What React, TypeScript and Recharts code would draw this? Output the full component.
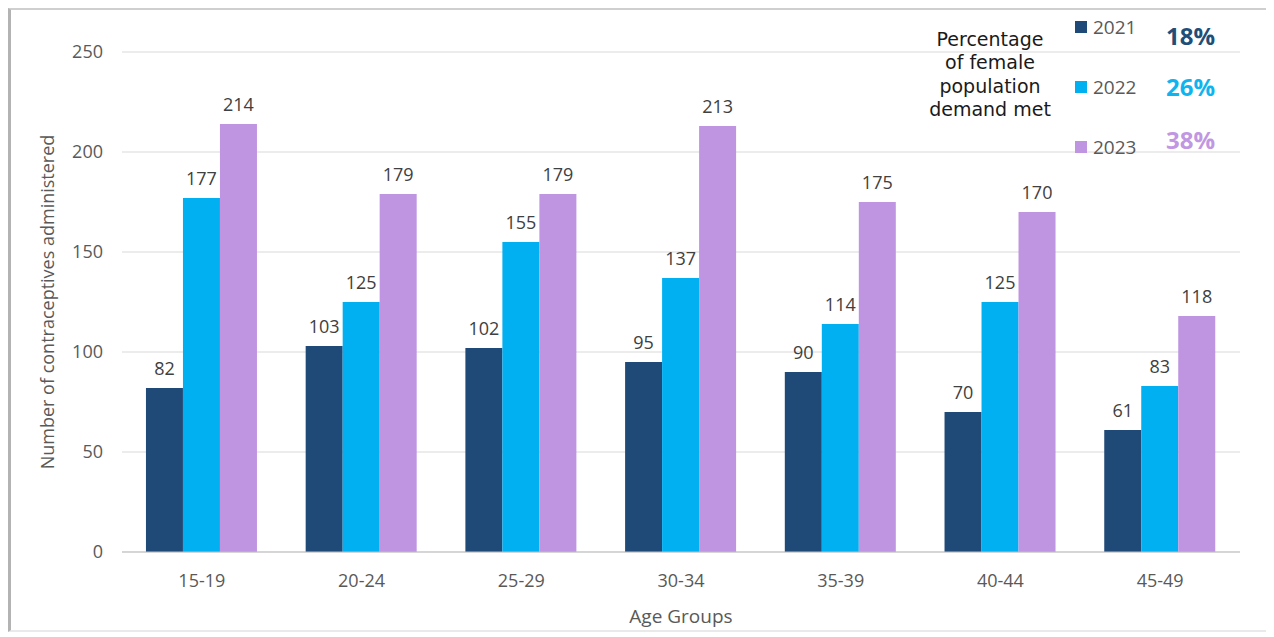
import React from "react";
import {
  BarChart,
  Bar,
  XAxis,
  YAxis,
  CartesianGrid,
  LabelList,
  Label,
} from "recharts";

const ageGroups = ["15-19", "20-24", "25-29", "30-34", "35-39", "40-44", "45-49"];
const values2021 = [82, 103, 102, 95, 90, 70, 61];
const values2022 = [177, 125, 155, 137, 114, 125, 83];
const values2023 = [214, 179, 179, 213, 175, 170, 118];
const yTicks = [0, 50, 100, 150, 200, 250];

const years = ["2021", "2022", "2023"];
const demandMet = ["18%", "26%", "38%"];
const colors = ["#1f4a78", "#00b0f0", "#bf94e0"];
const pctColors = ["#1f4e79", "#0fb4ef", "#c196e2"];

const FONT = "'Open Sans', sans-serif";

const chartData = ageGroups.map((name, i) => ({
  name,
  y2021: values2021[i],
  y2022: values2022[i],
  y2023: values2023[i],
}));

const seriesKeys = ["y2021", "y2022", "y2023"];

// legend box at top right, with the share of demand met per year
const yearTops = [7, 67, 127];
const pctTops = [14, 65, 118];

const DemandLegend = () => (
  <>
    <div
      style={{
        position: "absolute",
        left: 899,
        top: 18,
        width: 160,
        textAlign: "center",
        fontFamily: "'DejaVu Sans', sans-serif",
        fontSize: 19,
        lineHeight: "23.3px",
        color: "#1a1a1a",
      }}
    >
      Percentage
      <br />
      of female
      <br />
      population
      <br />
      demand met
    </div>
    {years.map((yr, i) => (
      <div
        key={yr}
        style={{
          position: "absolute",
          left: 1064,
          top: yearTops[i],
          display: "flex",
          alignItems: "center",
          height: 20,
          fontFamily: FONT,
          fontSize: 19,
          color: "#595959",
        }}
      >
        <span
          style={{
            display: "inline-block",
            width: 12,
            height: 12,
            background: colors[i],
            marginRight: 6,
          }}
        />
        {yr}
      </div>
    ))}
    {demandMet.map((p, i) => (
      <div
        key={p}
        style={{
          position: "absolute",
          left: 1155,
          top: pctTops[i],
          height: 24,
          lineHeight: "24px",
          fontFamily: FONT,
          fontSize: 24,
          fontWeight: 700,
          color: pctColors[i],
        }}
      >
        {p}
      </div>
    ))}
  </>
);

const YTitle = ({ viewBox }: any) => (
  <text
    x={viewBox.x + 36}
    y={viewBox.y + viewBox.height / 2}
    transform={`rotate(-90, ${viewBox.x + 36}, ${viewBox.y + viewBox.height / 2})`}
    textAnchor="middle"
    dominantBaseline="central"
    fill="#595959"
    fontFamily={FONT}
    fontSize={18}
  >
    Number of contraceptives administered
  </text>
);

const XTitle = ({ viewBox }: any) => (
  <text
    x={viewBox.x + viewBox.width / 2}
    y={viewBox.y + 64}
    textAnchor="middle"
    dominantBaseline="central"
    fill="#595959"
    fontFamily={FONT}
    fontSize={19}
  >
    Age Groups
  </text>
);

export default function App() {
  return (
    <div
      style={{
        position: "relative",
        width: 1262,
        height: 624,
        boxSizing: "border-box",
        borderLeft: "3px solid #b3b3b3",
        borderTop: "2px solid #cfcfcf",
        borderRight: "1px solid #e2e2e2",
        borderBottom: "2px solid #e9e9e9",
        background: "#fff",
      }}
    >
      <BarChart
        width={1258}
        height={620}
        data={chartData}
        margin={{ top: 42, right: 29, left: 0, bottom: 0 }}
        barCategoryGap="15%"
        barGap={0}
      >
        <CartesianGrid vertical={false} stroke="#d9d9d9" />
        <XAxis
          dataKey="name"
          height={78}
          axisLine={{ stroke: "#bfbfbf" }}
          tickLine={false}
          tickSize={0}
          tickMargin={22}
          tick={{ fill: "#595959", fontFamily: FONT, fontSize: 18 }}
        >
          <Label content={<XTitle />} />
        </XAxis>
        <YAxis
          width={111}
          domain={[0, 250]}
          ticks={yTicks}
          axisLine={false}
          tickLine={false}
          tickSize={0}
          tickMargin={19}
          tick={{ fill: "#595959", fontFamily: FONT, fontSize: 18 }}
        >
          <Label content={<YTitle />} />
        </YAxis>
        {seriesKeys.map((k, i) => (
          <Bar key={k} dataKey={k} fill={colors[i]} isAnimationActive={false}>
            <LabelList
              dataKey={k}
              position="top"
              offset={13}
              fill="#404040"
              fontFamily={FONT}
              fontSize={18}
            />
          </Bar>
        ))}
      </BarChart>
      <DemandLegend />
    </div>
  );
}
